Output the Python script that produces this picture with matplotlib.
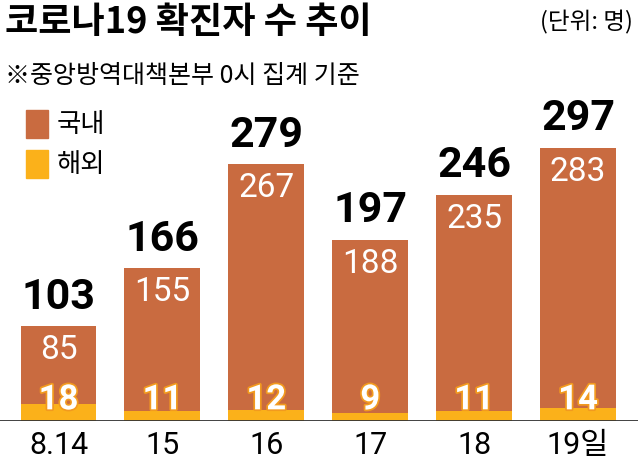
import matplotlib
matplotlib.use('Agg')
import matplotlib.pyplot as plt
import matplotlib.patheffects as pe

plt.rcParams['font.family'] = ['Noto Sans CJK KR', 'DejaVu Sans']

# data
dates = ['8.14', '15', '16', '17', '18', '19일']
domestic = [85, 155, 267, 188, 235, 283]
overseas = [18, 11, 12, 9, 11, 14]
totals = [d + o for d, o in zip(domestic, overseas)]

c_dom = '#C96B40'
c_ovs = '#FBB11A'

num_font = ['Roboto', 'Noto Sans CJK KR']

W, H = 638, 465
fig = plt.figure(figsize=(W / 100, H / 100), dpi=100)

# axes: baseline at y=421px, top at y=110px
ax = fig.add_axes([0, (H - 421) / H, 1, (421 - 110) / H])
x = list(range(len(dates)))
ax.bar(x, overseas, width=0.73, color=c_ovs, zorder=2)
ax.bar(x, domestic, width=0.73, bottom=overseas, color=c_dom, zorder=2)
ax.set_xlim(-0.563, 5.577)
ax.set_ylim(0, 338)
ax.axis('off')
ax.axhline(0, color='#333333', lw=1.3, zorder=3)

for i in x:
    ax.text(i, 23, str(overseas[i]), ha='center', va='center',
            color='white', fontsize=25, fontweight='bold', family=num_font, zorder=4,
            path_effects=[pe.withStroke(linewidth=2.5, foreground='#F29A1E')])
    ax.text(i, totals[i] - 26, str(domestic[i]), ha='center', va='center',
            color='white', fontsize=24, fontweight='normal', family=num_font, zorder=4)
    ax.text(i, totals[i] + 9, str(totals[i]), ha='center', va='bottom',
            color='black', fontsize=31, fontweight='bold', family=num_font, zorder=4)
    ax.text(i, -11, dates[i], ha='center', va='top', color='black',
            fontsize=22, fontweight='normal', family=num_font, zorder=4)

# title and notes
fig.text(5 / W, 1 - 22 / H, '코로나19 확진자 수 추이', ha='left', va='center',
         fontsize=26, fontweight='black')
fig.text(633 / W, 1 - 22 / H, '(단위: 명)', ha='right', va='center', fontsize=17)
fig.text(5 / W, 1 - 76 / H, '※중앙방역대책본부 0시 집계 기준', ha='left', va='center',
         fontsize=18, fontweight='light')

# legend
for k, (lab, col) in enumerate([('국내', c_dom), ('해외', c_ovs)]):
    yc = 124 + k * 40
    fig.patches.append(plt.Rectangle((26 / W, 1 - (yc + 14) / H), 22 / W, 28 / H,
                                     transform=fig.transFigure, color=col))
    fig.text(57 / W, 1 - yc / H, lab, ha='left', va='center', fontsize=19,
             fontweight='light')

fig.savefig('out.png', dpi=100)
